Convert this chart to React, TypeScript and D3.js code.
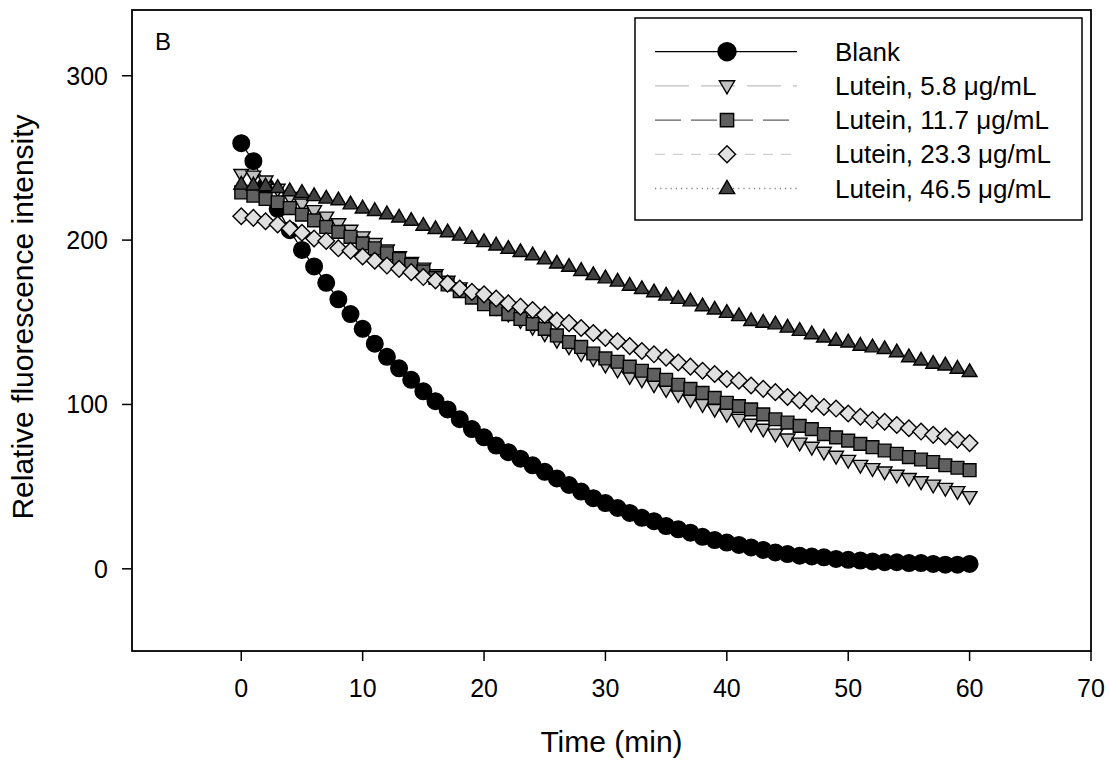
import React, { useEffect, useRef } from "react";
import * as d3 from "d3";

const times = d3.range(0, 61);

const blank = [259, 248, 233, 219, 206, 194, 184, 174, 164, 155, 146, 137, 129, 122, 115, 108, 102, 97, 91, 85, 80, 75, 71, 67, 63, 59, 55, 51, 47, 43, 40, 37, 34, 31, 29, 26, 24, 22, 19.5, 17.5, 16, 14.5, 13, 11.5, 10, 9, 8, 7.5, 7, 6, 5.5, 5, 4.5, 4, 4, 3.5, 3.5, 3, 2.5, 2.5, 3];

const lutein58 = [240, 239, 236, 231, 226, 222, 218, 214, 210, 206, 202, 198, 194, 190, 186.5, 183, 179, 175, 171, 167, 163, 159, 155, 151, 147, 143, 139, 135, 131, 128, 124, 121, 117, 115, 112, 109, 106, 103, 100, 97, 94, 91, 88, 85, 82, 79, 76.5, 74, 71, 68.5, 66, 63, 61, 59, 57, 55, 53, 51, 49, 47, 44];

const lutein117 = [229, 227, 225, 223, 219.5, 215.5, 212, 208, 205, 202, 198, 195, 192, 188.5, 185, 181, 177, 173, 169, 165, 161, 158, 155, 152, 149, 146, 142, 138, 135, 131, 128, 126, 123, 120.5, 118, 115, 112, 109.5, 107, 104, 101, 99, 97, 94, 91, 89, 87, 85, 82, 80, 78, 76, 74, 72, 70, 68, 66.5, 65, 63, 61.5, 60];

const lutein233 = [214.5, 213.5, 211.5, 209.5, 207, 204.5, 201, 199.5, 195, 193.5, 190, 187.5, 184.5, 182.5, 180.5, 177.5, 175.5, 173.5, 170.5, 168.5, 167, 164.5, 161.5, 159.5, 157.5, 154.5, 151, 149.5, 146.5, 143.5, 140.5, 138.5, 135.5, 132.5, 130.5, 128.5, 125.5, 123, 120.5, 118.5, 115.5, 114.5, 111.5, 109.5, 107.5, 104.5, 102.5, 100.5, 98.5, 97.5, 94.5, 92.5, 90.5, 89.5, 87.5, 85.5, 83.5, 81.5, 80.5, 78.5, 76.5];

const lutein465 = [234, 233.5, 233, 232, 230, 229, 227, 225.5, 224.5, 222, 219.5, 218, 216, 214, 212, 209, 207, 205, 203, 201, 199, 197, 195, 193, 191, 188.5, 186, 184, 181.5, 179, 177, 175, 172.5, 170.5, 168.5, 166.5, 164.5, 163, 160, 158, 156, 154, 151, 150, 149, 147, 145, 143, 141, 139, 138, 136, 135, 134, 132, 129, 127, 125, 124, 122, 120];

const seriesNames = ["Blank", "Lutein, 5.8 \u03bcg/mL", "Lutein, 11.7 \u03bcg/mL", "Lutein, 23.3 \u03bcg/mL", "Lutein, 46.5 \u03bcg/mL"];
const seriesValues = [blank, lutein58, lutein117, lutein233, lutein465];
const xTicks = [0, 10, 20, 30, 40, 50, 60, 70];
const yTicks = [0, 100, 200, 300];

const FONT = "'Liberation Sans', Arial, Helvetica, sans-serif";

const styles = [
  { shape: "circle", fill: "#000000", line: "#000000", dash: "" },
  { shape: "down", fill: "#c0c0c0", line: "#c0c0c0", dash: "34,12" },
  { shape: "square", fill: "#606060", line: "#606060", dash: "26,10" },
  { shape: "diamond", fill: "#e0e0e0", line: "#d0d0d0", dash: "10,8" },
  { shape: "up", fill: "#404040", line: "#808080", dash: "1.2,4" },
];

function markerPath(shape: string, s: number): string {
  switch (shape) {
    case "circle":
      return `M${-s},0A${s},${s} 0 1,0 ${s},0A${s},${s} 0 1,0 ${-s},0Z`;
    case "down":
      return `M${-s * 0.9},${-s * 0.6}L${s * 0.9},${-s * 0.6}L0,${s * 0.95}Z`;
    case "up":
      return `M0,${-s * 0.95}L${s * 0.9},${s * 0.6}L${-s * 0.9},${s * 0.6}Z`;
    case "square":
      return `M${-s * 0.78},${-s * 0.78}H${s * 0.78}V${s * 0.78}H${-s * 0.78}Z`;
    case "diamond":
      return `M0,${-s}L${s},0L0,${s}L${-s},0Z`;
  }
  return "";
}

export default function App() {
  const ref = useRef<SVGSVGElement>(null);

  useEffect(() => {
    const svg = d3.select(ref.current);
    svg.selectAll("*").remove();

    const left = 132, right = 1091, top = 10, bottom = 651;
    const x = d3.scaleLinear().domain([-9, 70]).range([left, right]);
    const y = d3.scaleLinear().domain([-50, 340]).range([bottom, top]);

    const g = svg.append("g");

    // series
    seriesValues.forEach((vals, i) => {
      const st = styles[i];
      const pts = times.map((t, k) => [t, vals[k]] as [number, number]);
      const line = d3.line<[number, number]>().x((d) => x(d[0])).y((d) => y(d[1]));
      g.append("path")
        .attr("d", line(pts) as string)
        .attr("fill", "none")
        .attr("stroke", st.line)
        .attr("stroke-width", 1.3)
        .attr("stroke-dasharray", st.dash || null);
      const size = st.shape === "circle" ? 8.3 : st.shape === "diamond" ? 8.3 : 8.2;
      g.append("g")
        .selectAll("path")
        .data(pts)
        .join("path")
        .attr("transform", (d) => `translate(${x(d[0])},${y(d[1])})`)
        .attr("d", markerPath(st.shape, size))
        .attr("fill", st.fill)
        .attr("stroke", "#000")
        .attr("stroke-width", 1.4);
    });

    // frame
    svg.append("rect")
      .attr("x", left).attr("y", top)
      .attr("width", right - left).attr("height", bottom - top)
      .attr("fill", "none").attr("stroke", "#000").attr("stroke-width", 1.8);

    // x ticks
    const xg = svg.append("g");
    xTicks.forEach((t) => {
      xg.append("line").attr("x1", x(t)).attr("x2", x(t)).attr("y1", bottom).attr("y2", bottom + 10)
        .attr("stroke", "#000").attr("stroke-width", 1.5);
      xg.append("text").attr("x", x(t)).attr("y", 697).attr("text-anchor", "middle")
        .attr("font-family", FONT).attr("font-size", 25).text(String(t));
    });
    // y ticks
    const yg = svg.append("g");
    yTicks.forEach((t) => {
      yg.append("line").attr("x1", left - 10).attr("x2", left).attr("y1", y(t)).attr("y2", y(t))
        .attr("stroke", "#000").attr("stroke-width", 1.5);
      yg.append("text").attr("x", 108).attr("y", y(t) + 9).attr("text-anchor", "end")
        .attr("font-family", FONT).attr("font-size", 25).text(String(t));
    });

    // axis titles
    svg.append("text").attr("x", (left + right) / 2).attr("y", 752).attr("text-anchor", "middle")
      .attr("font-family", FONT).attr("font-size", 30).text("Time (min)");
    svg.append("text").attr("transform", `translate(33,317) rotate(-90)`).attr("text-anchor", "middle")
      .attr("font-family", FONT).attr("font-size", 30).text("Relative fluorescence intensity");

    // panel label
    svg.append("text").attr("x", 155).attr("y", 50).attr("font-family", FONT).attr("font-size", 24).text("B");

    // legend
    const lg = svg.append("g");
    lg.append("rect").attr("x", 635).attr("y", 18).attr("width", 447).attr("height", 202)
      .attr("fill", "#fff").attr("stroke", "#000").attr("stroke-width", 1.5);
    seriesNames.forEach((name, i) => {
      const st = styles[i];
      const ry = 51.7 + i * 34.2;
      lg.append("line").attr("x1", 655).attr("x2", 797).attr("y1", ry).attr("y2", ry)
        .attr("stroke", st.line).attr("stroke-width", 1.3).attr("stroke-dasharray", st.dash || null);
      lg.append("path").attr("transform", `translate(727,${ry})`).attr("d", markerPath(st.shape, st.shape === "circle" ? 9 : 8.5))
        .attr("fill", st.fill).attr("stroke", "#000").attr("stroke-width", 1.4);
      lg.append("text").attr("x", 835).attr("y", ry + 9).attr("font-family", FONT).attr("font-size", 26).text(name);
    });
  }, []);

  return (
    <svg ref={ref} width={1110} height={760} style={{ position: "absolute", left: 0, top: 0, background: "#fff" }} />
  );
}
